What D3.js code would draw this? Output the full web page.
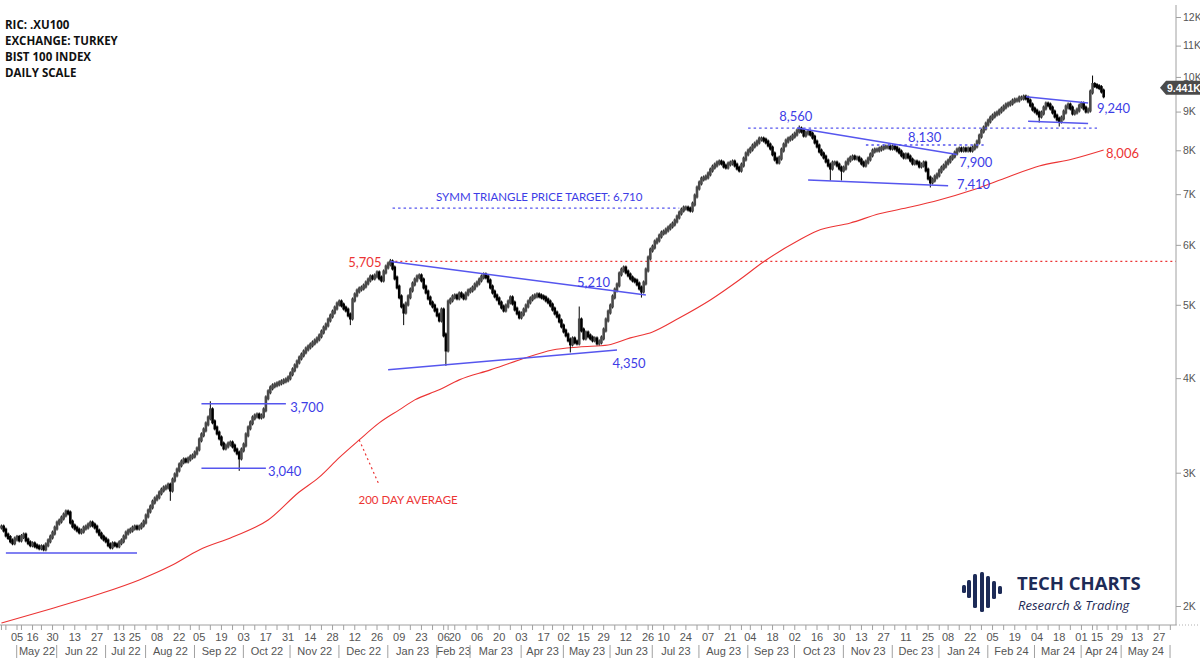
<!DOCTYPE html>
<html><head><meta charset="utf-8">
<script src="https://cdn.jsdelivr.net/npm/d3@7"></script>
<style>
html,body{margin:0;padding:0;background:#fff;}
svg{display:block;}
</style></head>
<body><svg id="chart" width="1200" height="663"></svg>
<script>
// ---------------- DATA ----------------
const titleLines = ["RIC: .XU100", "EXCHANGE: TURKEY", "BIST 100 INDEX", "DAILY SCALE"];
const startDate = "2022-04-21";
const calendarEnd = "2024-06-14";
const holidays = ["2022-05-02","2022-05-03","2022-05-04","2022-05-19","2022-07-11","2022-07-12","2022-07-15","2022-08-30",
  "2023-02-08","2023-02-09","2023-02-10","2023-02-13","2023-02-14","2023-04-21","2023-05-01","2023-05-19",
  "2023-06-28","2023-06-29","2023-06-30","2023-08-30",
  "2024-01-01","2024-04-10","2024-04-11","2024-04-12","2024-04-23","2024-05-01"];
// daily closes from 2022-04-21 to 2024-04-18 (trading days)
const closes = [
2543,2520,2482,2463,2438,2424,2452,
2464,2445,2470,2482,2445,2424,2409,2416,2402,2394,
2387,2394,2380,2409,2438,2467,2497,2535,2574,2590,
2614,2638,2662,2654,2582,2551,2535,2520,2505,2512,
2535,2543,2559,2574,2559,2543,2512,2489,2467,2452,
2438,2409,2394,2416,2409,2402,2424,2438,2467,2497,
2512,2520,2535,2543,2535,2543,2559,2582,2630,2670,
2703,2744,2770,2787,2821,2846,2864,2872,2889,2846,
2934,2980,3025,3072,3100,3119,3109,3128,3147,3157,
3186,3225,3315,3366,3417,3480,3544,3632,3502,3438,
3385,3335,3274,3235,3254,3274,3284,3254,3215,3186,
3138,3215,3264,3366,3438,3491,3544,3565,3576,3554,
3565,3632,3767,3837,3883,3907,3919,3931,3943,3955,
3967,3979,4003,4052,4102,4152,4202,4253,4292,4332,
4371,4398,4425,4452,4479,4507,4548,4603,4659,4702,
4774,4832,4891,4951,5012,5043,4997,4951,4921,4848,
4803,5074,5153,5214,5246,5262,5294,5343,5392,5442,
5425,5459,5509,5425,5392,5525,5609,5661,5696,5592,
5425,5278,5122,4982,4891,5012,5122,5230,5327,5392,
5442,5459,5392,5278,5198,5104,5027,4982,4921,4848,
4774,4921,4562,4358,5043,5074,5121,5137,5106,5168,
5137,5106,5168,5214,5230,5262,5311,5343,5392,5442,
5475,5442,5376,5278,5198,5137,5090,5027,4966,4921,
4982,5043,5106,5027,4936,4877,4818,4862,4921,4982,
5043,5090,5121,5137,5153,5137,5121,5106,5074,5043,
4997,4936,4877,4832,4760,4688,4617,4562,4493,4439,
4507,4466,4452,4774,4631,4520,4589,4548,4520,4493,
4507,4452,4466,4520,4631,4774,4891,4982,5121,5230,
5311,5492,5558,5592,5525,5475,5425,5392,5376,5327,
5262,5214,5343,5558,5765,5906,5960,6052,6089,6163,
6220,6239,6277,6316,6354,6393,6451,6530,6610,6670,
6711,6711,6690,6670,6793,6961,7132,7243,7331,7353,
7376,7444,7533,7602,7649,7696,7720,7696,7626,7602,
7673,7696,7720,7649,7579,7533,7649,7790,7912,7982,
8031,8105,8154,8204,8278,8278,8253,8204,8130,8055,
7912,7790,7720,7813,8006,8130,8228,8278,8303,8353,
8404,8482,8534,8482,8379,8430,8456,8404,8328,8204,
8105,7982,7912,7838,7743,7649,7579,7696,7696,7649,
7579,7533,7579,7696,7766,7813,7838,7813,7813,7766,
7696,7649,7720,7790,7888,7982,8006,8006,8031,8055,
8080,8080,8080,8055,8080,8055,8006,7958,7888,7838,
7888,7838,7766,7696,7720,7696,7626,7649,7696,7533,
7353,7265,7308,7376,7421,7511,7579,7626,7696,7743,
7813,7863,7934,8006,8031,8006,8031,8006,8031,8006,
8055,8105,8204,8353,8482,8560,8664,8745,8825,8879,
8933,8960,9015,9070,9126,9181,9209,9237,9294,9321,
9321,9378,9378,9406,9378,9294,9181,9070,9015,8960,
8879,8960,9098,9209,9181,9098,8988,8879,8798,8745,
8825,8988,9126,9181,9098,8960,8988,9042,9153,9209,
9098,9015,9042,9552,9771,9741,9709,9680,9580,9441];
// notable intraday extremes
const extremeDates = ["2022-08-16","2022-09-12","2022-09-29","2022-12-08","2023-01-03","2023-01-11","2023-02-07","2023-05-05","2023-05-11","2023-06-21","2023-10-04","2023-10-24","2023-10-31","2023-12-26","2024-03-05","2024-03-18","2024-04-08"];
const extremeValues = [2775,3700,3040,4736,5705,4736,4185,4358,4936,5150,8560,7353,7353,7199,8771,8664,9966];
// 200-day moving average
const maDates = ["2022-04-21","2022-05-27","2022-06-28","2022-07-27","2022-08-16","2022-09-05","2022-09-26","2022-10-18","2022-11-07","2022-11-18","2022-12-01","2022-12-14","2022-12-27","2023-01-09","2023-01-18","2023-02-02","2023-02-22","2023-03-14","2023-03-31","2023-04-24","2023-05-11","2023-05-31","2023-06-14","2023-07-03","2023-07-19","2023-08-08","2023-08-25","2023-09-12","2023-10-04","2023-10-16","2023-11-06","2023-11-23","2023-12-13","2024-01-02","2024-01-23","2024-02-14","2024-03-05","2024-03-26","2024-04-18"];
const maValues = [1899,1982,2074,2165,2258,2372,2467,2598,2829,2960,3141,3315,3491,3632,3744,3860,3979,4102,4227,4358,4398,4425,4521,4604,4803,5074,5392,5699,6089,6258,6413,6594,6731,6877,7089,7376,7626,7790,8006];
// drawn trend lines: [date1, value1, date2, value2]
const solidLines = [
  ["2022-04-25",2350,"2022-07-26",2350],
  ["2022-09-06",3700,"2022-10-28",3700],
  ["2022-09-06",3040,"2022-10-17",3040],
  ["2023-01-03",5705,"2023-06-23",5150],
  ["2023-01-02",4102,"2023-06-06",4358],
  ["2023-10-03",8560,"2024-01-12",7900],
  ["2023-10-10",7310,"2024-01-08",7180],
  ["2024-02-26",9412,"2024-04-04",9240],
  ["2024-02-27",8740,"2024-04-04",8680]];
const dottedLines = [
  ["2023-01-04",6710,"2023-07-19",6710],
  ["2023-09-01",8560,"2024-04-15",8560],
  ["2023-11-15",8130,"2024-01-30",8130]];
const resistanceLevel = {date:"2023-01-03", value:5705};
// labels: [text, date, value, anchor, colour key]
const labels = [
  ["3,700","2022-11-01",3654,"start","blue"],
  ["3,040","2022-10-18",3016,"start","blue"],
  ["5,705","2022-12-28",5690,"end","red"],
  ["5,210","2023-05-10",5359,"start","blue"],
  ["4,350","2023-06-02",4185,"start","blue"],
  ["SYMM TRIANGLE PRICE TARGET: 6,710","2023-04-13",6931,"middle","blue"],
  ["8,560","2023-09-21",8877,"start","blue"],
  ["8,130","2023-12-12",8328,"start","blue"],
  ["7,900","2024-01-15",7720,"start","blue"],
  ["7,410","2024-01-12",7200,"start","blue"],
  ["9,240","2024-04-15",9098,"start","blue"],
  ["8,006","2024-04-19",7913,"start","red"],
  ["200 DAY AVERAGE","2023-01-13",2761,"middle","red"]];
const maPointer = ["2022-12-14",3315,"2022-12-27",2889];
const yTickValues = [2000,3000,4000,5000,6000,7000,8000,9000,10000,11000,12000];
const lastPriceLabel = "9.441K";

// ---------------- LAYOUT ----------------
const W = 1200, H = 663, plotRight = 1176, plotBottom = 625, plotTop = 5;
const BLUE = "#3d3de6", BLUE_LINE = "#5656ee", RED = "#ec3434";
const svg = d3.select("#chart");
svg.append("rect").attr("width", W).attr("height", H).attr("fill", "#fff");

const parse = d3.utcParse("%Y-%m-%d"), fmt = d3.utcFormat("%Y-%m-%d");
const hol = new Set(holidays);
const days = d3.utcDays(parse(startDate), d3.utcDay.offset(parse(calendarEnd), 1))
  .filter(d => d.getUTCDay() % 6 !== 0 && !hol.has(fmt(d)));
const idx = new Map(days.map((d, i) => [fmt(d), i]));
const I = s => idx.get(s);

const x = d3.scaleLinear().domain([I("2022-05-05"), I("2024-04-15")]).range([17, 1097]);
const y = d3.scaleLog().domain([2000, 12000]).range([606, 17]);

const defs = svg.append("defs");
defs.append("clipPath").attr("id", "plotclip").append("rect")
  .attr("x", 0).attr("y", 0).attr("width", plotRight).attr("height", plotBottom);
const plot = svg.append("g").attr("clip-path", "url(#plotclip)");

// 200 day MA
const maData = maDates.map((d, i) => ({i: I(d), v: maValues[i]}));
plot.append("path").datum(maData)
  .attr("d", d3.line().x(d => x(d.i)).y(d => y(d.v)).curve(d3.curveMonotoneX))
  .attr("fill", "none").attr("stroke", RED).attr("stroke-width", 1.1);

// resistance dotted red
plot.append("line")
  .attr("x1", x(I(resistanceLevel.date))).attr("x2", plotRight)
  .attr("y1", y(resistanceLevel.value)).attr("y2", y(resistanceLevel.value))
  .attr("stroke", RED).attr("stroke-width", 1.2).attr("stroke-dasharray", "2,3");

// bars
const ext = new Map(extremeDates.map((d, i) => [I(d), extremeValues[i]]));
const bars = closes.map((c, k) => {
  const o = k > 0 ? closes[k - 1] : c;
  let hi = Math.max(o, c), lo = Math.min(o, c);
  if (ext.has(k)) { const e = ext.get(k); hi = Math.max(hi, e); lo = Math.min(lo, e); }
  return {k, o, c, hi, lo};
});
const barG = plot.append("g");
barG.selectAll("line").data(bars).join("line")
  .attr("x1", d => x(d.k)).attr("x2", d => x(d.k))
  .attr("y1", d => y(d.hi) - 2.5).attr("y2", d => y(d.lo) + 2.5)
  .attr("stroke", "#000").attr("stroke-width", 1);
barG.selectAll("rect").data(bars).join("rect")
  .attr("x", d => x(d.k) - 1.3).attr("width", 2.6)
  .attr("y", d => y(Math.max(d.o, d.c)) - 1.5)
  .attr("height", d => Math.max(2, y(Math.min(d.o, d.c)) - y(Math.max(d.o, d.c)) + 3))
  .attr("fill", d => d.c >= d.o ? "#4a4a4a" : "#000");

// trend lines
const lg = plot.append("g");
solidLines.forEach(s => lg.append("line")
  .attr("x1", x(I(s[0]))).attr("y1", y(s[1])).attr("x2", x(I(s[2]))).attr("y2", y(s[3]))
  .attr("stroke", BLUE_LINE).attr("stroke-width", 1.5));
dottedLines.forEach(s => lg.append("line")
  .attr("x1", x(I(s[0]))).attr("y1", y(s[1])).attr("x2", x(I(s[2]))).attr("y2", y(s[3]))
  .attr("stroke", BLUE_LINE).attr("stroke-width", 1.3).attr("stroke-dasharray", "2.5,3"));
lg.append("line")
  .attr("x1", x(I(maPointer[0]))).attr("y1", y(maPointer[1]))
  .attr("x2", x(I(maPointer[2]))).attr("y2", y(maPointer[3]))
  .attr("stroke", RED).attr("stroke-width", 1.2).attr("stroke-dasharray", "2,3");

// labels
labels.forEach(l => svg.append("text")
  .attr("x", x(I(l[1]))).attr("y", y(l[2])).attr("dy", "0.35em")
  .attr("text-anchor", l[3])
  .attr("font-family", "Lato, 'Open Sans', sans-serif").attr("font-size", l[0].length > 10 ? 11.5 : 13)
  .attr("fill", l[4] === "red" ? RED : BLUE).text(l[0]));

// ---------------- AXES ----------------
const axisFont = "'Liberation Sans', Arial, sans-serif";
// y axis
const yg = svg.append("g").attr("transform", `translate(${plotRight},0)`);
yg.append("line").attr("y1", plotTop).attr("y2", plotBottom).attr("stroke", "#a0a0a0");
yg.call(g => {
  const ax = d3.axisRight(y).tickValues(yTickValues).tickFormat(d => (d / 1000) + "K").tickSize(5).tickPadding(2);
  g.append("g").call(ax).call(a => a.select(".domain").remove())
    .call(a => a.selectAll("line").attr("stroke", "#a0a0a0"))
    .call(a => a.selectAll("text").attr("font-family", axisFont).attr("font-size", 10.5).attr("fill", "#555"));
});
svg.append("line").attr("x1", plotRight).attr("x2", W).attr("y1", plotBottom).attr("y2", plotBottom)
  .attr("stroke", "#b0b0b0").attr("stroke-dasharray", "1,2");

// x axis
const xg = svg.append("g");
xg.append("line").attr("x1", 0).attr("x2", plotRight).attr("y1", plotBottom).attr("y2", plotBottom).attr("stroke", "#a0a0a0");
const refMonday = parse("2022-05-02");
const weekStarts = [];
days.forEach((d, k) => {
  const m = d3.utcMonday.floor(d);
  if (k === 0 || +d3.utcMonday.floor(days[k - 1]) !== +m) {
    const w = Math.round((m - refMonday) / (7 * 864e5));
    weekStarts.push({k, d, labeled: w % 2 === 0});
  }
});
const visWeeks = weekStarts.filter(w => x(w.k) >= 0 && x(w.k) <= plotRight - 4);
xg.selectAll("line.wt").data(visWeeks).join("line").attr("class", "wt")
  .attr("x1", w => x(w.k)).attr("x2", w => x(w.k))
  .attr("y1", plotBottom).attr("y2", plotBottom + 5).attr("stroke", "#a0a0a0");
xg.selectAll("text.wl").data(visWeeks.filter(w => w.labeled && x(w.k) > 8)).join("text").attr("class", "wl")
  .attr("x", w => x(w.k)).attr("y", 641).attr("text-anchor", "middle")
  .attr("font-family", axisFont).attr("font-size", 11).attr("fill", "#555")
  .text(w => d3.utcFormat("%d")(w.d));
// months
const months = [];
days.forEach((d, k) => {
  if (k === 0 || days[k - 1].getUTCMonth() !== d.getUTCMonth()) months.push({k, d});
});
months.forEach((m, j) => {
  const xs = x(m.k) - 0.3;
  if (xs > 5 && xs < plotRight) {
    xg.append("line").attr("x1", xs).attr("x2", xs).attr("y1", 645).attr("y2", 658).attr("stroke", "#a0a0a0");
  }
  const next = months[j + 1];
  if (!next) return;
  const cx = (x(m.k) + x(next.k)) / 2;
  if (x(m.k) < 5 || cx > plotRight - 10) return;
  xg.append("text").attr("x", cx).attr("y", 655).attr("text-anchor", "middle")
    .attr("font-family", axisFont).attr("font-size", 11).attr("fill", "#555")
    .text(d3.utcFormat("%b %y")(m.d));
});

// last price tag
const lastY = y(closes[closes.length - 1]) - 8;
const tag = svg.append("g");
tag.append("path")
  .attr("d", `M${plotRight - 16},${lastY} L${plotRight - 10},${lastY - 7} L${W},${lastY - 7} L${W},${lastY + 7} L${plotRight - 10},${lastY + 7} Z`)
  .attr("fill", "#4a4a4a");
tag.append("text").attr("x", plotRight - 9).attr("y", lastY).attr("dy", "0.36em")
  .attr("font-family", axisFont).attr("font-size", 10.5).attr("font-weight", "bold").attr("fill", "#fff")
  .text(lastPriceLabel);

// title block
titleLines.forEach((t, i) => svg.append("text")
  .attr("x", 5).attr("y", 29 + i * 16)
  .attr("font-family", "'Open Sans', sans-serif").attr("font-weight", "bold").attr("font-size", 11.5).attr("fill", "#111")
  .text(t));

// logo
const logo = svg.append("g").attr("fill", "#1d2b57");
const iconBars = [[962, 585, 8], [967, 580, 18], [973, 574, 34], [980, 572, 40], [986, 576, 32], [992, 581, 18], [998, 586, 8]];
iconBars.forEach(b => logo.append("rect").attr("x", b[0]).attr("y", b[1]).attr("width", 4).attr("height", b[2]).attr("rx", 1.5));
logo.append("text").attr("x", 1017).attr("y", 590)
  .attr("font-family", "'Open Sans', sans-serif").attr("font-weight", "bold").attr("font-size", 18.5)
  .text("TECH CHARTS");
logo.append("text").attr("x", 1018).attr("y", 610)
  .attr("font-family", "'Open Sans', sans-serif").attr("font-style", "italic").attr("font-size", 13)
  .text("Research & Trading");
</script>
</body></html>
